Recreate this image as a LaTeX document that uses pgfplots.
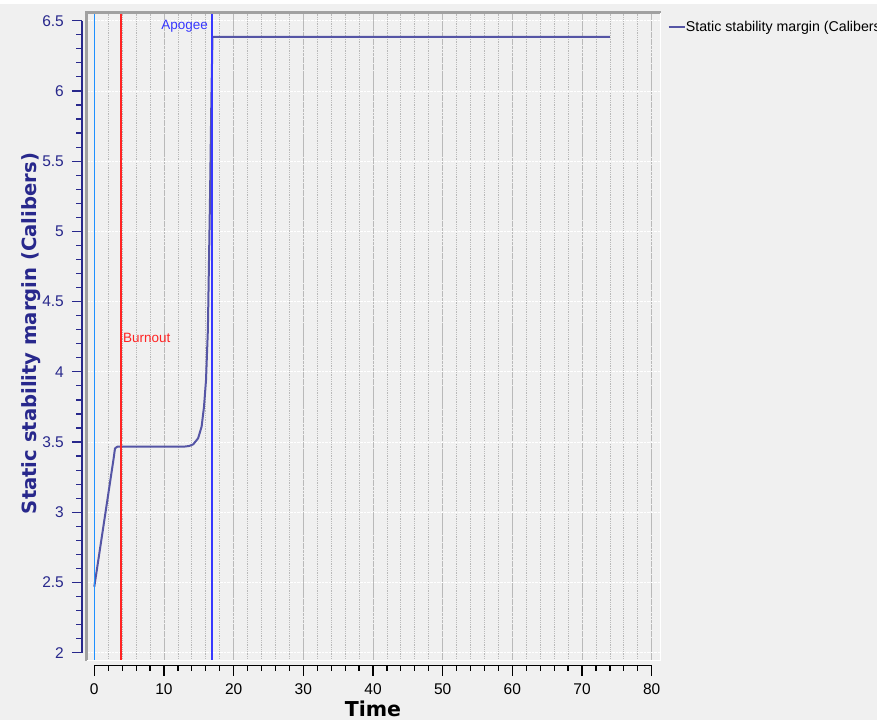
\documentclass[border=0pt]{standalone}
\usepackage{pgfplots}
\pgfplotsset{compat=1.18}
\usepackage{fontspec}
\setmainfont{Liberation Sans}
\newfontfamily\boldlab{DejaVu Sans}
\definecolor{bgc}{RGB}{240,240,240}
\definecolor{navy}{RGB}{40,40,140}
\definecolor{dataline}{RGB}{85,85,165}
\definecolor{launchc}{RGB}{30,144,255}
\definecolor{burnc}{RGB}{255,35,35}
\definecolor{apoc}{RGB}{55,55,255}
\definecolor{gridg}{RGB}{185,185,185}
\definecolor{bordg}{RGB}{160,160,160}
\begin{document}
\begin{tikzpicture}
\path[use as bounding box, fill=bgc] (0,0) rectangle (877pt,-720pt);
\fill[white] (0,0) rectangle (877pt,-4pt);
% main plot area
\begin{axis}[
  scale only axis, width=574pt, height=648pt,
  at={(86.5pt,-660.5pt)}, anchor=south west,
  xmin=-1.12, xmax=81.26, ymin=1.944, ymax=6.56,
  axis line style={draw=none},
  xtick={0,10,...,80}, minor xtick={2,4,...,80},
  ytick={2,2.5,...,6.5},
  xticklabels={}, yticklabels={},
  major tick length=0pt, minor tick length=0pt,
  tick style={draw=none},
  xmajorgrids, xminorgrids, ymajorgrids,
  x grid style={gridg, densely dotted, line width=0.8pt},
  minor x grid style={gridg, densely dotted, line width=0.8pt},
  y grid style={white, densely dotted, line width=1pt},
  clip=false,
  legend style={at={(rel axis cs:1.0125,0.9776)}, anchor=west, draw=none, fill=none,
    font=\fontsize{14.2}{16}\selectfont, text=black, inner sep=0pt,
    nodes={inner sep=0pt}},
  legend cell align=left,
  legend image code/.code={\draw[#1, line width=1.2pt] (0pt,0pt) -- (7pt,0pt);
    \path (0pt,0pt) -- (16pt,0pt);},
]
\addplot[dataline, line width=2pt, line join=round] coordinates {
 (0,2.47) (2.75,3.375) (2.97,3.455) (3.3,3.467) (12.8,3.467) (13.6,3.472)
 (14.2,3.484) (14.9,3.527) (15.4,3.61) (15.74,3.75) (16.03,3.94) (16.3,4.3)
 (16.6,5.22) (16.8,5.94) (16.96,6.386) (74,6.386)};
\addlegendentry{Static stability margin (Calibers)}
\addplot[launchc, line width=1.4pt, forget plot] coordinates {(0.05,1.944) (0.05,6.56)};
\addplot[burnc, line width=1.4pt, forget plot] coordinates {(3.83,1.944) (3.83,6.56)};
\addplot[apoc, line width=1.6pt, forget plot] coordinates {(16.93,1.944) (16.93,6.56)};
\node[text=apoc, anchor=east, font=\fontsize{13.5}{15}\selectfont, inner sep=0pt] at (axis cs:16.32,6.462) {Apogee};
\node[text=burnc, anchor=west, font=\fontsize{13.5}{15}\selectfont, inner sep=0pt] at (axis cs:4.12,4.24) {Burnout};
\draw[bordg, line width=2.5pt] (rel axis cs:0,0) -- (rel axis cs:0,1) -- (rel axis cs:1,1);
\draw[white, line width=1.5pt] (rel axis cs:0,0) -- (rel axis cs:1,0) -- (rel axis cs:1,1);
\end{axis}
% y axis
\begin{axis}[
  scale only axis, width=10pt, height=632pt,
  at={(82pt,-652.7pt)}, anchor=south west,
  xmin=0, xmax=1, ymin=2, ymax=6.5,
  axis y line=left, axis x line=none,
  y axis line style={-, navy, line width=1.2pt},
  ytick={2,2.5,...,6.5}, minor y tick num=4,
  tick align=outside, major tick length=10pt, minor tick length=6pt,
  tick style={navy, line width=1.2pt},
  yticklabel style={text=navy, font=\fontsize{15.5}{17}\selectfont, inner sep=0pt, anchor=east, xshift=-8pt},
  /pgf/number format/assume math mode=true,
  ylabel={Static stability margin (Calibers)},
  ylabel style={at={(axis description cs:-5.05,0.505)}, anchor=center,
    font=\boldlab\bfseries\fontsize{19.6}{23}\selectfont, text=navy},
]
\end{axis}
% x axis
\begin{axis}[
  scale only axis, width=557.4pt, height=10pt,
  at={(94.3pt,-665.7pt)}, anchor=south west,
  xmin=0, xmax=80, ymin=0, ymax=1,
  axis x line=bottom, axis y line=none,
  x axis line style={-, black, line width=1.2pt},
  xtick={0,10,...,80}, minor x tick num=4,
  tick align=outside, major tick length=10pt, minor tick length=5pt,
  tick style={black, line width=1.2pt},
  xticklabel style={text=black, font=\fontsize{15.5}{17}\selectfont, anchor=base, yshift=-19pt},
  /pgf/number format/assume math mode=true,
  xlabel={Time},
  xlabel style={at={(axis description cs:0.5,0)}, anchor=base, yshift=-51pt,
    font=\boldlab\bfseries\fontsize{20.5}{23}\selectfont, text=black},
]
\end{axis}
\end{tikzpicture}
\end{document}
